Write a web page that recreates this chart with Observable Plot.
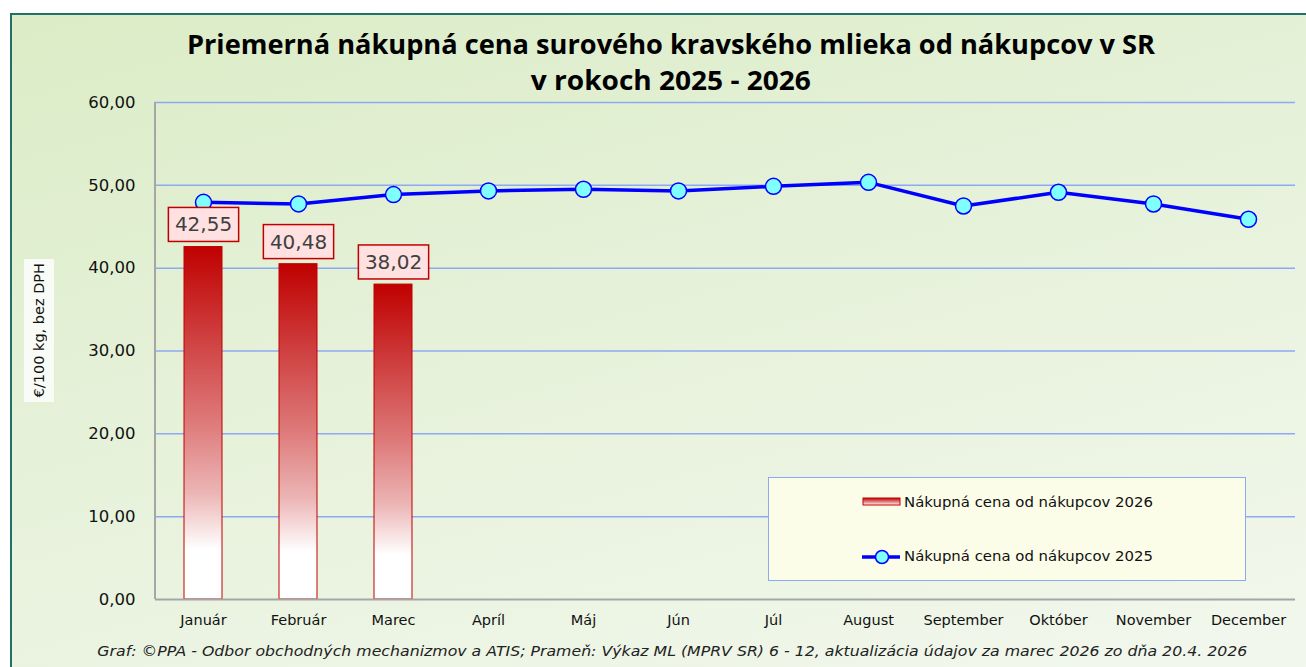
<!DOCTYPE html>
<html><head><meta charset="utf-8">
<script src="https://cdn.jsdelivr.net/npm/d3@7"></script>
<script src="https://cdn.jsdelivr.net/npm/@observablehq/plot@0.6"></script>
<style>
body{margin:0;width:1306px;height:667px;overflow:hidden;background:#fff;position:relative;font-family:"DejaVu Sans",sans-serif;}
#frame{position:absolute;left:10px;top:13px;width:1320px;height:680px;border-left:2px solid #22706a;border-top:2px solid #22706a;background:linear-gradient(165deg,#dbecc6 0%,#e5f1d8 40%,#f3f8ef 100%);}
#chart{position:absolute;left:0;top:0;}
.title{position:absolute;left:0;width:1342px;text-align:center;font-family:"Open Sans",sans-serif;font-weight:700;font-size:26px;line-height:36px;color:#000;white-space:nowrap;}
.fit{display:inline-block;transform-origin:50% 50%;white-space:nowrap;}
#footer{position:absolute;left:0;width:1344px;top:641px;text-align:center;font-style:italic;font-size:14.5px;line-height:20px;color:#222;white-space:nowrap;}
#ylab{position:absolute;left:24px;top:259px;width:30px;height:143px;background:#f9fbf6;display:flex;align-items:center;justify-content:center;}
#ylab span{writing-mode:vertical-rl;transform:rotate(180deg);font-size:14.5px;color:#111;white-space:nowrap;}
#legend{position:absolute;left:768px;top:477px;width:476px;height:102px;background:#fcfde9;border:1.5px solid #8ea9f3;}
#legend svg{position:absolute;left:0;top:0;}
.leg{position:absolute;left:135px;font-size:14.5px;line-height:20px;color:#111;white-space:nowrap;transform-origin:0 50%;}
</style></head>
<body>
<div id="frame"></div>
<div class="title" style="top:26px"><span class="fit" id="t1">Priemerná nákupná cena surového kravského mlieka od nákupcov v SR</span></div>
<div class="title" style="top:62px"><span class="fit" id="t2">v rokoch 2025 - 2026</span></div>
<div id="ylab"><span>€/100 kg, bez DPH</span></div>
<div id="footer"><span class="fit" id="foot">Graf: ©PPA - Odbor obchodných mechanizmov a ATIS; Prameň: Výkaz ML (MPRV SR) 6 - 12, aktualizácia údajov za marec 2026 zo dňa 20.4. 2026</span></div>
<script>
const months = ["Január","Február","Marec","Apríl","Máj","Jún","Júl","August","September","Október","November","December"];
const price2025 = [47.95,47.76,48.88,49.33,49.52,49.33,49.88,50.36,47.51,49.16,47.75,45.90];
const price2026 = [42.55,40.48,38.02];
const yTicks = [0,10,20,30,40,50,60];
const seriesNames = ["Nákupná cena od nákupcov 2026","Nákupná cena od nákupcov 2025"];

const lineData = months.map((m,i)=>({month:m, value:price2025[i]}));
const barData = price2026.map((v,i)=>({month:months[i], value:v}));
const fmt = v => v.toFixed(2).replace(".", ",");

const defsMark = () => {
  const defs = d3.create("svg:defs");
  const g = defs.append("linearGradient").attr("id","barGrad").attr("x1",0).attr("y1",0).attr("x2",0).attr("y2",1);
  [[0,"#c00000"],[0.28,"#d04545"],[0.5,"#de7a7a"],[0.7,"#ecb5b5"],[0.86,"#ffffff"],[1,"#ffffff"]]
    .forEach(([o,c])=>g.append("stop").attr("offset",o).attr("stop-color",c));
  return defs.node();
};
const yAxisLine = (index, scales, values, dims) => {
  const g = d3.create("svg:line")
    .attr("x1", dims.marginLeft).attr("x2", dims.marginLeft)
    .attr("y1", dims.marginTop).attr("y2", dims.height - dims.marginBottom)
    .attr("stroke","#a6a6a6").attr("stroke-width",2);
  return g.node();
};

const chart = Plot.plot({
  width:1306, height:640,
  marginLeft:155, marginRight:11, marginTop:102, marginBottom:41,
  style:{background:"transparent", fontFamily:"DejaVu Sans", overflow:"visible"},
  x:{type:"band", domain:months, paddingInner:0.6, paddingOuter:0.3, label:null},
  y:{domain:[0,60], label:null},
  marks:[
    defsMark,
    Plot.ruleY(yTicks.filter(d=>d>0), {stroke:"#8ca9f5", strokeWidth:1.5}),
    Plot.barY(barData, {x:"month", y:"value", fill:"url(#barGrad)", stroke:"#c00000", strokeWidth:1}),
    Plot.ruleY([0], {stroke:"#a6a6a6", strokeWidth:2}),
    yAxisLine,
    Plot.line(lineData, {x:"month", y:"value", stroke:"#0000ff", strokeWidth:3.5}),
    Plot.dot(lineData, {x:"month", y:"value", r:8, fill:"#80ffff", stroke:"#0000ff", strokeWidth:1.5}),
    Plot.text(barData, {x:"month", y:"value", text:d=>fmt(d.value), dy:-22, lineAnchor:"middle", fontSize:20, fill:"#404040", className:"vlabel"}),
    Plot.axisY({ticks:yTicks, tickSize:0, tickPadding:20, tickFormat:fmt, fontSize:16.5, fill:"#111", label:null}),
    Plot.axisX({tickSize:0, tickPadding:15, fontSize:14.5, fill:"#111", label:null})
  ]
});
chart.id = "chart";
document.body.appendChild(chart);

// boxes behind value labels
chart.querySelectorAll(".vlabel text").forEach(t=>{
  const b = t.getBBox();
  const r = document.createElementNS("http://www.w3.org/2000/svg","rect");
  r.setAttribute("x", b.x-6.5); r.setAttribute("y", b.y-5);
  r.setAttribute("width", b.width+13); r.setAttribute("height", b.height+10);
  r.setAttribute("fill","#ffe1e1"); r.setAttribute("stroke","#c00000"); r.setAttribute("stroke-width",1.5);
  if (t.getAttribute("transform")) r.setAttribute("transform", t.getAttribute("transform"));
  t.parentNode.insertBefore(r, t);
});

// legend
const leg = document.createElement("div");
leg.id = "legend";
leg.innerHTML = `<svg width="476" height="102">
 <defs><linearGradient id="legGrad" x1="0" y1="0" x2="0" y2="1"><stop offset="0" stop-color="#c00000"/><stop offset="1" stop-color="#fff3f3"/></linearGradient></defs>
 <rect x="94" y="20" width="37" height="7" fill="url(#legGrad)" stroke="#c00000" stroke-width="1"/>
 <line x1="93" x2="131" y1="79" y2="79" stroke="#0000ff" stroke-width="3.5"/>
 <circle cx="113" cy="79" r="6.5" fill="#80ffff" stroke="#0000ff" stroke-width="1.5"/>
</svg>
<span class="leg" id="l1" style="top:14px">${seriesNames[0]}</span>
<span class="leg" id="l2" style="top:68px">${seriesNames[1]}</span>`;
document.body.appendChild(leg);
document.body.appendChild(document.getElementById("footer"));

function fit(id, target){
  const el = document.getElementById(id);
  const w = el.getBoundingClientRect().width;
  if (w>0) el.style.transform = `scaleX(${target/w})`;
}
fit("t1", 968); fit("t2", 280); fit("foot", 1150); fit("l1", 249); fit("l2", 249);
</script>
</body></html>
